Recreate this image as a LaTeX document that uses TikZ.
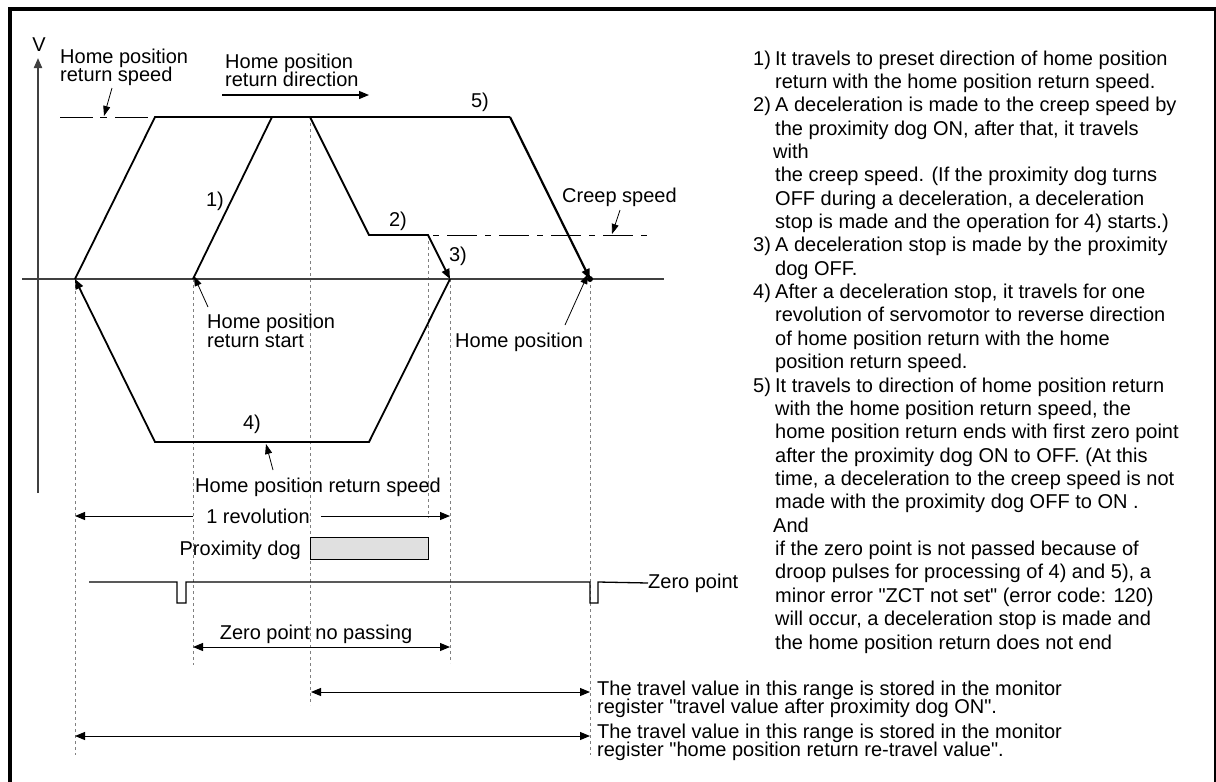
\documentclass[tikz,border=0pt]{standalone}
\usepackage{fontspec}
\setmainfont{Liberation Sans}[Ligatures=TeXOff]
\usetikzlibrary{arrows.meta}
\newcommand\mlines[2]{{\baselineskip=#1\relax\lineskiplimit=-100pt\relax\vtop{\halign{##\hfil\cr#2\crcr}}}}
\newcommand\nm[1]{\hbox to 22pt{#1\hfil}}
\newcommand\ind{\hbox to 22pt{}}
\begin{document}
\begin{tikzpicture}[x=1pt,y=-1pt,
  traj/.style={line width=1.8pt,black,line join=miter},
  bigtip/.style={-{Triangle[length=10pt,width=8pt]}},
  ptr/.style={line width=0.8pt,-{Triangle[length=10pt,width=7pt]}},
  dim/.style={line width=1pt,{Triangle[length=10pt,width=8pt]}-{Triangle[length=10pt,width=8pt]}},
  guide/.style={black!50,line width=1pt,dash pattern=on 3pt off 3pt},
  axis/.style={black!75,line width=2pt},
  lbl/.style={font=\fontsize{20}{18}\selectfont,inner sep=0pt,align=left},
  txt/.style={font=\fontsize{20}{23.36}\selectfont,inner sep=0pt}]
\useasboundingbox (0,0) rectangle (1216,782);
% frame
\draw[line width=4pt] (10,782) -- (10,9) -- (1215.5,9) -- (1215.5,782);

% key points
\coordinate (S) at (193,279);
\coordinate (A1) at (272,117);
\coordinate (A2) at (310,117);
\coordinate (A3) at (369,235);
\coordinate (A4) at (428,235);
\coordinate (P3) at (450,279);
\coordinate (B1) at (369,442);
\coordinate (B2) at (155,442);
\coordinate (P4) at (75,279);
\coordinate (C1) at (155,117);
\coordinate (C2) at (510,117);
\coordinate (H) at (590,279);

% guides
\coordinate (g1) at (75,755);
\coordinate (g2) at (193,665);
\coordinate (g3) at (310,705);
\coordinate (g4) at (428,518);
\coordinate (g5) at (450,663);
\coordinate (g6) at (590,755);
\draw[guide] (P4) -- (g1);
\draw[guide] (S) -- (g2);
\draw[guide] (A2) -- (g3);
\draw[guide] (A4) -- (g4);
\draw[guide] (P3) -- (g5);
\draw[guide] (H) -- (g6);

% axes
\coordinate (vb) at (38,493);
\coordinate (vt) at (38,58);
\coordinate (hl) at (22,279);
\coordinate (hr) at (664,279);
\draw[axis] (hl) -- (hr);
\draw[axis,-{Triangle[length=10pt,width=8pt]}] (vb) -- (vt);
\node[lbl,anchor=center] (V) at (39,45) {V};

% speed level lines
\coordinate (hs0) at (60,117);
\coordinate (hs1) at (148,117);
\draw[line width=1pt,dash pattern=on 33pt off 7pt on 7pt off 8pt] (hs0) -- (hs1);
\coordinate (cs1) at (648,235);
\draw[line width=1pt,dash pattern=on 6pt off 8pt on 30pt off 8pt] ([xshift=5pt]A4) -- (cs1);

% trajectories
\draw[traj,bigtip] (S) -- (A1) -- (A2) -- (A3) -- (A4) -- (P3);
\draw[traj,bigtip] (P3) -- (B1) -- (B2) -- (P4);
\draw[traj] (P4) -- (C1) -- (C2);
\draw[traj,line width=2.2pt,bigtip] (C2) -- (H);
\fill (H) circle (3pt);

% step labels
\node[lbl] (n1) at (215,201) {1)};
\node[lbl] (n2) at (398,221) {2)};
\node[lbl] (n3) at (458,256) {3)};
\node[lbl] (n4) at (252,424) {4)};
\node[lbl] (n5) at (480,102) {5)};

% labels with pointers
\node[lbl,anchor=base west] (lHS) at (60,63.5) {\mlines{18pt}{Home position\cr return speed}};
\coordinate (pHS0) at (112,88);
\coordinate (pHS1) at (104,116);
\draw[ptr] (pHS0) -- (pHS1);

\node[lbl,anchor=base west] (lDir) at (225,68) {\mlines{18.5pt}{Home position\cr return direction}};
\coordinate (d0) at (222,95);
\coordinate (d1) at (369,95);
\draw[line width=1.2pt,-{Triangle[length=10pt,width=8pt]}] (d0) -- (d1);

\node[lbl,anchor=base west] (lCreep) at (562,202) {Creep speed};
\coordinate (pC0) at (620,210);
\coordinate (pC1) at (612,234);
\draw[ptr] (pC0) -- (pC1);

\node[lbl,anchor=base west] (lStart) at (207,328) {\mlines{19pt}{Home position\cr return start}};
\coordinate (pS0) at (208,307);
\draw[ptr] (pS0) -- ([xshift=1pt,yshift=3pt]S);

\node[lbl,anchor=base west] (lHome) at (455,347) {Home position};
\coordinate (pH0) at (565,325);
\draw[ptr] (pH0) -- ([xshift=-2pt,yshift=5pt]H);

\node[lbl,anchor=base west] (lSpd) at (195,492) {Home position return speed};
\coordinate (pB0) at (273,470);
\coordinate (pB1) at (266,444);
\draw[ptr] (pB0) -- (pB1);

% 1 revolution
\node[lbl] (rev) at (258,516) {1 revolution};
\coordinate (revL) at (75,516);
\coordinate (revR) at (450,516);
\draw[line width=1pt,-{Triangle[length=10pt,width=8pt]}] ([xshift=-13pt]rev.west) -- (revL);
\draw[line width=1pt,-{Triangle[length=10pt,width=8pt]}] ([xshift=11pt]rev.east) -- (revR);

% proximity dog
\node[lbl,anchor=base east] (lDog) at (301,555) {Proximity dog};
\node[draw,line width=1.2pt,fill=black!12,inner sep=0pt,minimum width=118pt,minimum height=22pt,anchor=north west] (dog) at (310,537) {};

% zero point signal
\node[lbl,anchor=west] (lZero) at (648,583) {Zero point};
\coordinate (z0) at (89,582);
\draw[line width=1.3pt] (z0) -- (177,582) -- (177,603) -- (186,603) -- (186,582)
  -- (590,582) -- (590,603) -- (598,603) -- (598,582) -- (lZero.west);

% zero point no passing
\node[lbl] (lNoPass) at (316,634) {Zero point no passing};
\coordinate (np0) at (193,647);
\coordinate (np1) at (450,647);
\draw[dim] (np0) -- (np1);

% travel ranges
\coordinate (t1a) at (311,692);
\coordinate (t1b) at (590,692);
\coordinate (t2a) at (75,736);
\coordinate (t2b) at (590,736);
\draw[dim] (t1a) -- (t1b);
\draw[dim] (t2a) -- (t2b);
\node[lbl,anchor=base west] (tv1) at (597,695) {\mlines{18pt}{The travel value in this range is stored in the monitor\cr register "travel value after proximity dog ON".}};
\node[lbl,anchor=base west] (tv2) at (597,738) {\mlines{18pt}{The travel value in this range is stored in the monitor\cr register "home position return re-travel value".}};

% explanation column
\node[txt,anchor=base west] (expl) at (753,65) {\mlines{23.36pt}{%
\nm{1)}It travels to preset direction of home position\cr
\ind return with the home position return speed.\cr
\nm{2)}A deceleration is made to the creep speed by\cr
\ind the proximity dog ON, after that, it travels\cr
\hbox to 20pt{}with\cr
\ind the creep speed. (If the proximity dog turns\cr
\ind OFF during a deceleration, a deceleration\cr
\ind stop is made and the operation for 4) starts.)\cr
\nm{3)}A deceleration stop is made by the proximity\cr
\ind dog OFF.\cr
\nm{4)}After a deceleration stop, it travels for one\cr
\ind revolution of servomotor to reverse direction\cr
\ind of home position return with the home\cr
\ind position return speed.\cr
\nm{5)}It travels to direction of home position return\cr
\ind with the home position return speed, the\cr
\ind home position return ends with first zero point\cr
\ind after the proximity dog ON to OFF. (At this\cr
\ind time, a deceleration to the creep speed is not\cr
\ind made with the proximity dog OFF to ON .\cr
\hbox to 20pt{}And\cr
\ind if the zero point is not passed because of\cr
\ind droop pulses for processing of 4) and 5), a\cr
\ind minor error "ZCT not set" (error code: 120)\cr
\ind will occur, a deceleration stop is made and\cr
\ind the home position return does not end}};
\end{tikzpicture}
\end{document}
